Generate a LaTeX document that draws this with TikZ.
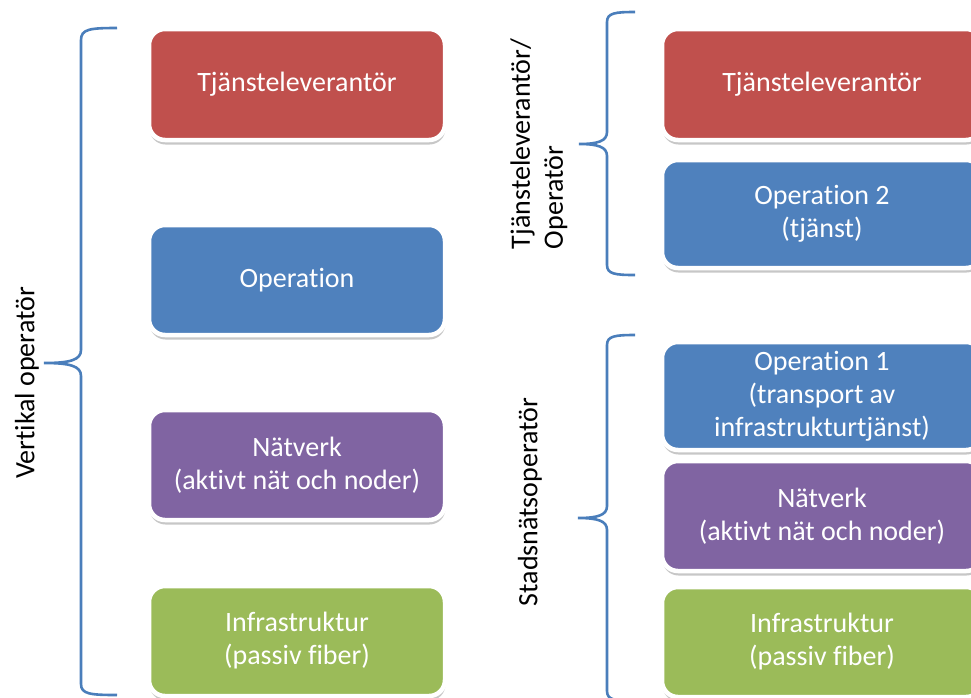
\documentclass[tikz,border=0pt]{standalone}
\usepackage{fontspec}
\setmainfont[RawFeature=-liga]{Carlito}
\usetikzlibrary{shadows}
\definecolor{cred}{HTML}{C0504D}
\definecolor{cblue}{HTML}{4F81BD}
\definecolor{cpurple}{HTML}{8064A2}
\definecolor{cgreen}{HTML}{9BBB59}
\definecolor{cbrace}{HTML}{4A7EBB}
\begin{document}
\begin{tikzpicture}[x=1pt,y=-1pt,
  box/.style={draw=white, line width=4.5pt, rounded corners=16pt,
    text=white, align=center, inner sep=0pt,
    font=\fontsize{28pt}{33pt}\selectfont,
    drop shadow={shadow xshift=0.5pt, shadow yshift=-4.5pt, fill=black, opacity=0.22}},
  lbox/.style={box, minimum width=296pt},
  rbox/.style={box, minimum width=320pt},
  bracket/.style={draw=cbrace, line width=2.6pt},
  lab/.style={rotate=90, text=black, font=\fontsize{28pt}{33pt}\selectfont, inner sep=0pt}]
\useasboundingbox (0,0) rectangle (971,697);

% left column
\node[lbox, fill=cred, minimum height=111pt] (l1) at (297,84.5) {Tjänsteleverantör};
\node[lbox, fill=cblue, minimum height=110pt] (l2) at (297,280) {Operation};
\node[lbox, fill=cpurple, minimum height=110pt] (l3) at (297,465) {Nätverk\\(aktivt nät och noder)};
\node[lbox, fill=cgreen, minimum height=110pt] (l4) at (297,641) {Infrastruktur\\(passiv fiber)};

% right column
\node[rbox, fill=cred, minimum height=111pt] (r1) at (822,84.5) {Tjänsteleverantör};
\node[rbox, fill=cblue, minimum height=108pt] (r2) at (822,214) {Operation 2\\(tjänst)};
\node[rbox, fill=cblue, minimum height=108pt] (r3) at (822,396) {Operation 1\\(transport av\\infrastrukturtjänst)};
\node[rbox, fill=cpurple, minimum height=110pt] (r4) at (822,516) {Nätverk\\(aktivt nät och noder)};
\node[rbox, fill=cgreen, minimum height=110pt] (r5) at (822,642) {Infrastruktur\\(passiv fiber)};

% braces
\draw[bracket] (117,28) .. controls (90,28) and (81,29) .. (81,40) -- (81,350)
  .. controls (81,360) and (70,363) .. (44,363)
  .. controls (70,363) and (81,366) .. (81,376) -- (81,684)
  .. controls (81,694) and (90,695) .. (117,695);
\draw[bracket] (635,12) .. controls (615,12) and (607,13) .. (607,22) -- (607,132)
  .. controls (607,141) and (598,144) .. (579,144)
  .. controls (598,144) and (607,147) .. (607,156) -- (607,265)
  .. controls (607,274) and (615,275) .. (635,275);
\draw[bracket] (635,335) .. controls (615,335) and (607,336) .. (607,345) -- (607,506)
  .. controls (607,515) and (598,518) .. (578,518)
  .. controls (598,518) and (607,521) .. (607,530) -- (607,691)
  .. controls (607,700) and (615,701) .. (635,701);

% labels
\node[lab] (t1) at (27,383) {Vertikal operatör};
\node[lab, align=left] (t2) at (539,144) {Tjänsteleverantör/\\Operatör};
\node[lab] (t3) at (530,502) {Stadsnätsoperatör};
\end{tikzpicture}
\end{document}
